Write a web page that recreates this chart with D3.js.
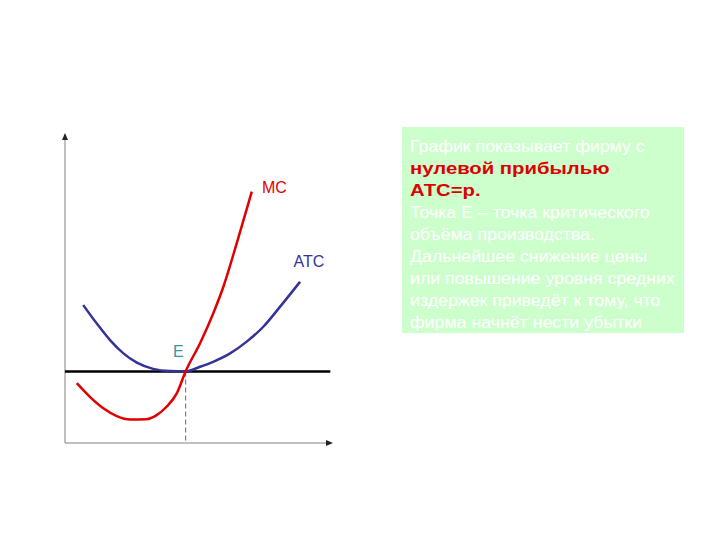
<!DOCTYPE html>
<html>
<head>
<meta charset="utf-8">
<script src="https://cdn.jsdelivr.net/npm/d3@7"></script>
<style>
  body { margin: 0; background: #fff; }
  svg { display: block; }
</style>
</head>
<body>
<svg id="chart" width="720" height="540"></svg>
<script>
// quantity (q) and price (p) in chart units, origin at axes corner
const atcQ = [6.8, 11.8, 16.8, 21.8, 26.8, 32.9, 39.2, 45.0, 50.4, 55.3, 61.6, 67.8, 74.0, 80.2, 87.7];
const atcP = [44.5, 38.6, 33.2, 28.9, 25.9, 23.9, 23.2, 23.1, 24.6, 26.2, 28.9, 32.7, 37.5, 43.9, 52.0];

const mcQ = [4.4, 9.3, 14.3, 19.3, 24.3, 30.5, 34.2, 37.9, 41.7, 45.0, 50.4, 55.3, 59.1, 64.1, 69.7];
const mcP = [19.3, 14.9, 11.2, 8.7, 7.6, 7.7, 9.0, 11.7, 16.0, 23.1, 32.2, 41.8, 50.4, 64.5, 81.1];

const price = 23.1;     // horizontal price line
const eQ = 45;          // point E quantity
const lineEnd = 99;     // price line right end

const boxLines = [
  { text: "График показывает фирму с", bold: false },
  { text: "нулевой прибылью", bold: true },
  { text: "АТС=р.", bold: true },
  { text: "Точка Е – точка критического", bold: false },
  { text: "объёма производства.", bold: false },
  { text: "Дальнейшее снижение цены", bold: false },
  { text: "или повышение уровня средних", bold: false },
  { text: "издержек приведёт к тому, что", bold: false },
  { text: "фирма начнёт нести убытки", bold: false }
];

const svg = d3.select('#chart');

const x = d3.scaleLinear().domain([0, 100]).range([65, 333]);
const y = d3.scaleLinear().domain([0, 100]).range([443, 133]);

// axes
const axisG = svg.append('g');
axisG.append('line')
  .attr('x1', x(0)).attr('y1', y(0))
  .attr('x2', x(0)).attr('y2', y(100) + 5)
  .attr('stroke', '#808080').attr('stroke-width', 1);
axisG.append('line')
  .attr('x1', x(0)).attr('y1', y(0))
  .attr('x2', x(100) - 5).attr('y2', y(0))
  .attr('stroke', '#808080').attr('stroke-width', 1);
// arrow heads
axisG.append('path')
  .attr('d', `M${x(0)},${y(100)} L${x(0) - 3},${y(100) + 7} L${x(0) + 3},${y(100) + 7} Z`)
  .attr('fill', '#222');
axisG.append('path')
  .attr('d', `M${x(100)},${y(0)} L${x(100) - 7},${y(0) - 3} L${x(100) - 7},${y(0) + 3} Z`)
  .attr('fill', '#222');

// dashed drop line from E
svg.append('line')
  .attr('x1', x(eQ)).attr('y1', y(price))
  .attr('x2', x(eQ)).attr('y2', y(0))
  .attr('stroke', '#808080').attr('stroke-width', 1.2)
  .attr('stroke-dasharray', '5,3');

// price line
svg.append('line')
  .attr('x1', x(0)).attr('y1', y(price))
  .attr('x2', x(lineEnd)).attr('y2', y(price))
  .attr('stroke', '#000').attr('stroke-width', 2.5);

const line = d3.line()
  .x(d => x(d[0]))
  .y(d => y(d[1]))
  .curve(d3.curveMonotoneX);

svg.append('path')
  .datum(d3.zip(atcQ, atcP))
  .attr('d', line)
  .attr('fill', 'none')
  .attr('stroke', '#333399')
  .attr('stroke-width', 2.5);

svg.append('path')
  .datum(d3.zip(mcQ, mcP))
  .attr('d', line)
  .attr('fill', 'none')
  .attr('stroke', '#e00000')
  .attr('stroke-width', 2.5);

// curve labels
const labelFont = '"Liberation Sans", Arial, sans-serif';
svg.append('text')
  .attr('x', x(73.5)).attr('y', y(80.5))
  .attr('font-family', labelFont).attr('font-size', 16)
  .attr('fill', '#e00000')
  .text('MC');
svg.append('text')
  .attr('x', x(85.3)).attr('y', y(56.8))
  .attr('font-family', labelFont).attr('font-size', 16)
  .attr('fill', '#333399')
  .text('ATC');
svg.append('text')
  .attr('x', x(40.3)).attr('y', y(27.8))
  .attr('font-family', labelFont).attr('font-size', 16)
  .attr('fill', '#339999')
  .text('E');

// note box
const box = svg.append('g').attr('transform', 'translate(402,127)');
box.append('rect')
  .attr('width', 282).attr('height', 206)
  .attr('fill', '#ccffcc');
box.selectAll('text')
  .data(boxLines)
  .join('text')
  .attr('transform', (d, i) => `translate(8,${25 + i * 22}) scale(${d.bold ? 1.23 : 1.11},1)`)
  .attr('font-family', labelFont)
  .attr('font-size', d => d.bold ? 16.5 : 16)
  .attr('font-weight', d => d.bold ? 'bold' : 'normal')
  .attr('fill', d => d.bold ? '#dd0000' : '#ffffff')
  .text(d => d.text);
</script>
</body>
</html>
